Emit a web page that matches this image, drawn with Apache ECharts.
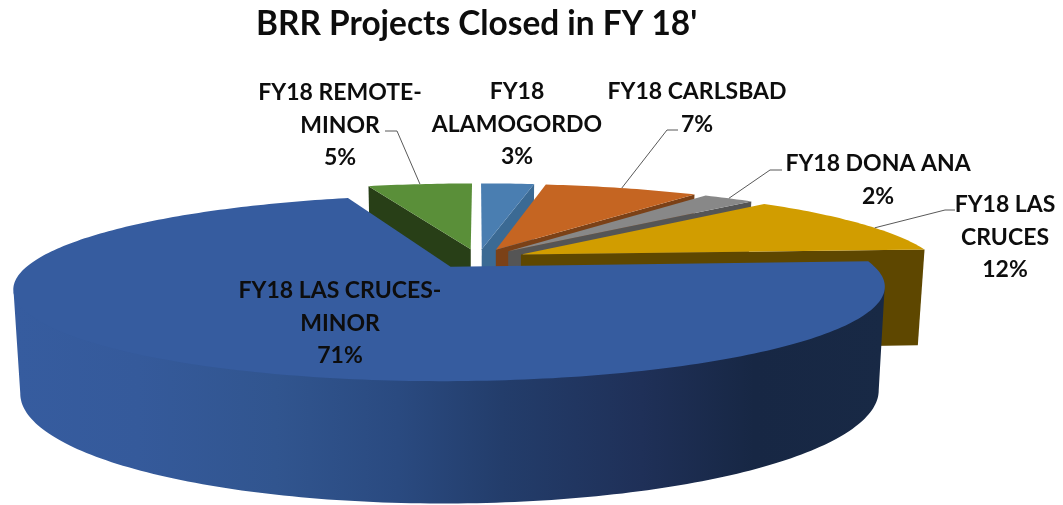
<!DOCTYPE html>
<html>
<head>
<meta charset="utf-8">
<style>html,body{margin:0;padding:0;background:#fff}#c{width:1063px;height:505px}</style>
<script src="https://cdn.jsdelivr.net/npm/echarts@6/dist/echarts.min.js"></script>
</head>
<body>
<div id="c"></div>
<script>
const titleText = "BRR Projects Closed in FY 18'";
const categories = ['FY18 ALAMOGORDO','FY18 CARLSBAD','FY18 DONA ANA','FY18 LAS CRUCES','FY18 LAS CRUCES-MINOR','FY18 REMOTE-MINOR'];
const labelLines = [['FY18','ALAMOGORDO'],['FY18 CARLSBAD'],['FY18 DONA ANA'],['FY18 LAS','CRUCES'],['FY18 LAS CRUCES-','MINOR'],['FY18 REMOTE-','MINOR']];
const values = [2.55,7.4,2.45,11.6,71,5];
const topColors = ['#4a7eb1','#c56522','#888888','#d19d00','#365c9f','#5a8f39'];
const sideColors = ['#3b6a94','#7b4117','#555555','#5e4700','#1f3058','#283f17'];
const paintOrder = [2,3,4,5,6,1];

// label centre x, first line centre y, leader elbow points (pixels), anchor shift along the rim (degrees)
const labelLayout = [
  {x:517,y:92,leader:null},
  {x:697,y:92,leader:[[678,130],[667,130]],shift:0},
  {x:878,y:164,leader:[[782,170],[770,170]],shift:0},
  {x:1005,y:205,leader:[[955,210],[945,210]],shift:4},
  {x:340,y:291,leader:null},
  {x:340,y:93,leader:[[385,131],[397,131]],shift:0}
];
const lineStep = 32.5;

// projection of the tilted plate
const CX = 478, CY = 258.6, RX = 415, RY = 84.35, PERSP = -0.2248, EXPLODE = 0.115;
const DEPTH = 97.6, BOTTOM_X = 0.985;

const total = values.reduce((a,b)=>a+b,0);
const spans = [];
values.reduce((acc,v)=>{ const s=acc, e=acc+v/total*360; spans.push([s,e]); return e; },0);
const rad = d => d*Math.PI/180;
const dirOf = d => [Math.sin(rad(d)), -Math.cos(rad(d))];
const midOf = i => (spans[i][0]+spans[i][1])/2;

function apexPlane(i){
  const d = dirOf(midOf(i));
  return [EXPLODE*d[0], EXPLODE*d[1]];
}
function proj(u,v){
  const w = 1+PERSP*v;
  return {x:CX+RX*u/w, y:CY+RY*v/w, w:w};
}
function topPt(u,v){ const p=proj(u,v); return [p.x,p.y]; }
function botPt(u,v){ const p=proj(u,v); return [CX+(p.x-CX)*BOTTOM_X, p.y+DEPTH/Math.pow(p.w,0.8)]; }
function rimPlane(i,deg){
  const a=apexPlane(i), d=dirOf(deg);
  return [a[0]+d[0], a[1]+d[1]];
}
function arcAngles(s,e){
  const out=[]; for(let t=s;t<e;t+=1) out.push(t); out.push(e); return out;
}
const wallGradient = {type:'linear',x:15,y:0,x2:885,y2:0,global:true,colorStops:[
  {offset:0,color:'#365c9f'},{offset:0.14,color:'#355a9b'},{offset:0.30,color:'#31558f'},
  {offset:0.44,color:'#2a4a80'},{offset:0.56,color:'#233d6b'},{offset:0.72,color:'#1f3058'},
  {offset:0.85,color:'#172744'},{offset:1,color:'#182945'}]};

// rim angle of the left- or right-most screen point within an arc
function extremeAngle(i,s,e,ptFn,sign){
  let best=s, bx=-Infinity;
  for(let t=s;t<=e;t+=0.5){
    const r=rimPlane(i,t), x=sign*ptFn(r[0],r[1])[0];
    if(x>bx){bx=x;best=t;}
  }
  return best;
}

function renderSlice(params){
  const i = params.dataIndex;
  const z = paintOrder[i]*10;
  const [s,e] = spans[i];
  const a = apexPlane(i);
  const kids = [];
  const sweep = e-s;

  // radial cut that faces the viewer
  if (sweep<180){
    const side = midOf(i)>180 ? s : e;
    const r = rimPlane(i,side);
    kids.push({type:'polygon',z2:z,shape:{points:[topPt(a[0],a[1]),topPt(r[0],r[1]),botPt(r[0],r[1]),botPt(a[0],a[1])]},style:{fill:sideColors[i]}});
  }
  // outer wall between the silhouette tangents of the top and bottom rims;
  // its upper edge tucks under the top face so no seam shows
  if (s<180 && e>180){
    const tR=extremeAngle(i,s,180,topPt,1), tL=extremeAngle(i,180,e,topPt,-1);
    const bR=extremeAngle(i,s,180,botPt,1), bL=extremeAngle(i,180,e,botPt,-1);
    const top=arcAngles(tR,tL).map(t=>{const r=rimPlane(i,t);const p=topPt(r[0],r[1]);return [p[0],p[1]-2];});
    const bot=arcAngles(bR,bL).map(t=>{const r=rimPlane(i,t);return botPt(r[0],r[1]);}).reverse();
    kids.push({type:'polygon',z2:z+1,shape:{points:top.concat(bot)},style:{fill:wallGradient}});
  }
  // top face
  const pts=[topPt(a[0],a[1])].concat(arcAngles(s,e).map(t=>{const r=rimPlane(i,t);return topPt(r[0],r[1]);}));
  kids.push({type:'polygon',z2:z+2,shape:{points:pts},style:{fill:topColors[i]}});

  // label
  const L=labelLayout[i];
  const lines=labelLines[i].concat([Math.round(values[i]/total*100)+'%']);
  lines.forEach((t,k)=>{
    kids.push({type:'text',z2:200,style:{text:t,x:L.x,y:L.y+k*lineStep,align:'center',verticalAlign:'middle',
      font:'bold 23px Lato, sans-serif',fill:'#0d0d0d'}});
  });
  // leader line ends on the slice's rim near its mid angle
  if (L.leader){
    const r=rimPlane(i,midOf(i)+L.shift);
    kids.push({type:'polyline',z2:150,shape:{points:L.leader.concat([topPt(r[0],r[1])])},style:{stroke:'#595959',lineWidth:1,fill:null}});
  }
  return {type:'group',children:kids};
}

const chart = echarts.init(document.getElementById('c'),null,{renderer:'canvas'});
chart.setOption({
  animation:false,
  backgroundColor:'#ffffff',
  title:{text:titleText,left:256,top:8,padding:0,textStyle:{fontFamily:'Lato, sans-serif',fontWeight:'bold',fontSize:33.4,color:'#0d0d0d'}},
  series:[{type:'custom',coordinateSystem:'none',silent:true,clip:false,
    data:categories.map((n,i)=>({name:n,value:values[i]})),renderItem:renderSlice}]
});
</script>
</body>
</html>
